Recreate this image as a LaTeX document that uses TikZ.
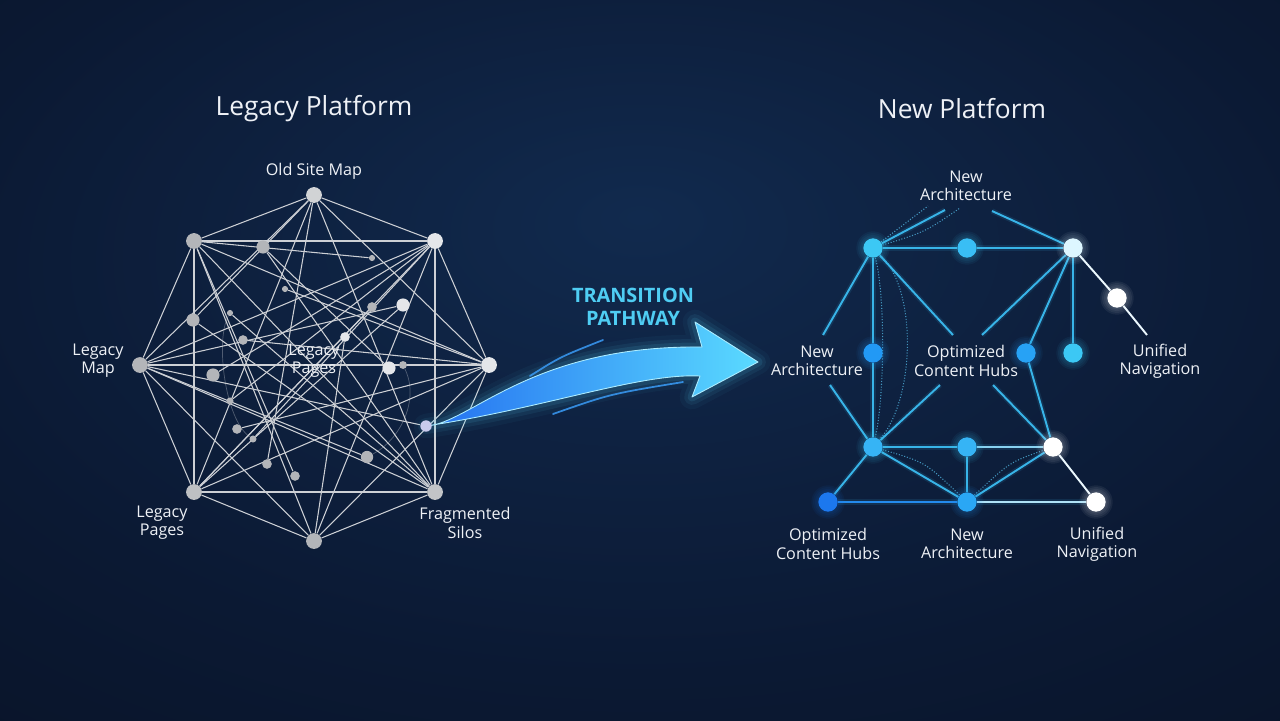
\documentclass[tikz,border=0pt]{standalone}
\usepackage{fontspec}
\setmainfont{Open Sans}
\usepackage{tikz}
\usetikzlibrary{positioning,calc,backgrounds}
\definecolor{bgin}{HTML}{112A4E}
\definecolor{bgmid}{HTML}{0B1933}
\definecolor{bgout}{HTML}{050A15}
\definecolor{legacy}{HTML}{B3B5B9}
\definecolor{legacylite}{HTML}{E4E6EA}
\definecolor{legacyline}{HTML}{CDD0D5}
\definecolor{hubcyan}{HTML}{3CC8F4}
\definecolor{hubblue}{HTML}{2299F5}
\definecolor{deepblue}{HTML}{1C78EE}
\definecolor{paleblue}{HTML}{DDF6FF}
\definecolor{linkcyan}{HTML}{38B4E8}
\definecolor{label}{HTML}{EEF1F6}
\definecolor{pathway}{HTML}{4FCDF3}
\definecolor{arrowblue}{HTML}{2470F0}
\definecolor{arrowcyan}{HTML}{5ADAFF}
\pgfdeclareradialshading{bgglow}{\pgfpoint{0bp}{10bp}}{color(0bp)=(bgin); color(28bp)=(bgmid); color(70bp)=(bgout)}

\begin{document}
\begin{tikzpicture}[x=0.02cm,y=-0.02cm,
  title/.style={font=\fontsize{15}{17}\selectfont,text=label},
  tag/.style={font=\fontsize{9.2}{10.4}\selectfont,text=label,align=center,inner sep=1pt},
  oldnode/.style={circle,fill=legacy,minimum size=9pt,inner sep=0pt},
  oldmid/.style={oldnode,minimum size=7.5pt},
  oldsmall/.style={oldnode,minimum size=5.5pt},
  oldtiny/.style={oldnode,minimum size=3.5pt},
  oldlink/.style={legacyline,line width=0.6pt},
  hub/.style={circle,minimum size=11pt,inner sep=0pt},
  newlink/.style={linkcyan,line width=1.1pt,preaction={draw,linkcyan,line width=3pt,opacity=0.12}},
  whitelink/.style={white!92!cyan,line width=1.1pt},
  faint/.style={linkcyan!85!white,densely dotted,line width=0.6pt,opacity=0.75},
  streak/.style={arrowblue!60!arrowcyan,line width=1pt,line cap=round,opacity=0.85}
]
\useasboundingbox (0,0) rectangle (1280,720);

\node[title] (oldtitle) at (314,109) {Legacy Platform};
\node[title] (newtitle) at (962,109) {New Platform};

\foreach \name/\pos/\col in {o1/{(314,195)}/legacy!60!white, o2/{(435,241)}/legacylite, o3/{(489,365)}/legacylite,
  o4/{(435,492)}/legacy!80!white, o5/{(314,541)}/legacy, o6/{(194,492)}/legacy!85!white, o7/{(140,365)}/legacy, o8/{(194,241)}/legacy}
  \node[oldnode,fill=\col] (\name) at \pos {};

\node[oldmid] (p1) at (263,247) {};
\node[oldtiny] (p2) at (372,258) {};
\node[oldtiny] (p3) at (285,289) {};
\node[oldmid] (p4) at (193,320) {};
\node[oldsmall] (p5) at (372,307) {};
\node[oldmid,fill=legacylite] (p6) at (403,305) {};
\node[oldtiny] (p7) at (230,313) {};
\node[oldsmall] (p8) at (243,340) {};
\node[oldsmall,fill=legacylite] (p9) at (345,337) {};
\node[oldmid] (p10) at (213,375) {};
\node[oldmid,fill=legacylite] (p11) at (389,368) {};
\node[oldtiny,minimum size=4.5pt] (p12) at (403,365) {};
\node[oldtiny,minimum size=4pt] (p13) at (230,401) {};
\node[oldsmall] (p14) at (237,429) {};
\node[oldtiny,minimum size=4pt] (p15) at (253,439) {};
\node[oldsmall] (p16) at (267,464) {};
\node[oldsmall] (p17) at (295,476) {};
\node[oldmid,minimum size=7pt] (p18) at (367,457) {};
\node[oldsmall,minimum size=6.5pt,fill=blue!12!legacylite] (p19) at (426,426) {};

\node[tag,above=3pt of o1] (oldmap) {Old Site Map};
\node[tag] (legmap) at (98,361) {Legacy\\Map};
\node[tag] (legpages) at (314,361) {Legacy\\Pages};
\node[tag] (legpagesB) at (162,523) {Legacy\\Pages};
\node[tag] (silolbl) at (465,523) {Fragmented\\Silos};

\node[font=\fontsize{11.3}{12.8}\selectfont\bfseries,text=pathway,align=center] (pathlbl) at (633,307) {TRANSITION\\PATHWAY};

\node[hub,fill=hubcyan] (topL) at (873,248) {};
\node[hub,fill=hubcyan!95!blue] (topM) at (967,248) {};
\node[hub,fill=paleblue] (topR) at (1073,248) {};
\node[hub,fill=white] (navDot) at (1117,298) {};
\node[hub,fill=hubblue] (midL) at (873,353) {};
\node[hub,fill=hubblue!80!hubcyan] (midC) at (1026,353) {};
\node[hub,fill=hubcyan] (midR) at (1073,353) {};
\node[hub,fill=hubcyan!90!blue] (lowL) at (873,447) {};
\node[hub,fill=hubcyan!90!blue] (lowM) at (967,447) {};
\node[hub,fill=white] (lowR) at (1053,447) {};
\node[hub,fill=deepblue] (baseL) at (828,502) {};
\node[hub,fill=hubblue!70!hubcyan] (baseM) at (967,502) {};
\node[hub,fill=white] (baseR) at (1096,502) {};

\node[tag] (archtop) at (966,186) {New\\Architecture};
\node[tag] (archleft) at (817,361) {New\\Architecture};
\node[tag] (hubsmid) at (966,361) {Optimized\\Content Hubs};
\node[tag] (navright) at (1160,361) {Unified\\Navigation};
\node[tag] (hubsbot) at (828,544) {Optimized\\Content Hubs};
\node[tag] (archbot) at (967,544) {New\\Architecture};
\node[tag] (navbot) at (1097,544) {Unified\\Navigation};

\coordinate (archtopL) at (945,210);
\coordinate (archtopR) at (992,211);
\coordinate (archleftT) at (823,335);
\coordinate (hubsmidL) at (953,335);
\coordinate (hubsmidR) at (982,335);
\coordinate (navrightT) at (1147,335);
\coordinate (archleftB) at (830,385);
\coordinate (hubsmidBL) at (940,385);
\coordinate (hubsmidBR) at (993,385);

\begin{scope}[on background layer]
\shade[shading=bgglow] (0,0) rectangle (1280,720);

\foreach \i in {1,...,7}{
  \pgfmathtruncatemacro\nxt{\i+1}
  \foreach \j in {\nxt,...,8}{
    \ifnum\i\j=15 \else \draw[oldlink] (o\i) -- (o\j); \fi
  }
}
\foreach \a/\b in {o8/p2, o1/p4, o7/p6, o2/p10, o3/p8, o6/p5, o5/p9, o4/p1, o7/p18, o8/p17,
  o1/p16, o2/p13, p1/p11, p4/o4, p6/o6, p12/o7, o7/p19, p3/o3, p7/o4, p14/o3, p15/o2}
  \draw[oldlink] (\a) -- (\b);
\draw[legacyline,line width=0.4pt,opacity=0.35] (p7) .. controls (215,340) and (225,420) .. (p15);
\draw[legacyline,line width=0.4pt,opacity=0.35] (p12) .. controls (420,400) and (400,440) .. (p18);

\foreach \w/\o in {14pt/0.04,9pt/0.07,5pt/0.1}
  \draw[arrowcyan,line width=\w,opacity=\o,line join=round]
    (p19.center) .. controls (470,424) and (530,345) .. (702,347)
    -- (695,322) -- (758,362) -- (692,397) -- (700,376)
    .. controls (640,373) and (545,408) .. (p19.center) -- cycle;
\shade[left color=arrowblue,right color=arrowcyan,draw=arrowcyan!50!white,line width=0.5pt,line join=round]
  (p19.center) .. controls (470,424) and (530,345) .. (702,347)
  -- (695,322) -- (758,362) -- (692,397) -- (700,376)
  .. controls (640,373) and (545,408) .. (p19.center) -- cycle;
\draw[streak] (530,376) .. controls (560,357) .. (603,340);
\draw[streak] (553,414) .. controls (610,394) .. (683,382);

\draw[faint] (topL) -- (928,206);
\draw[faint] (topL) .. controls (925,232) .. (960,208);
\draw[faint] (topL) .. controls (886,300) and (884,400) .. (lowL);
\draw[faint] (topL) .. controls (918,290) and (915,400) .. (lowL);
\draw[faint] (lowL) .. controls (925,462) .. (baseM);
\draw[faint] (baseM) .. controls (1010,462) .. (lowR);

\draw[newlink] (topL) -- (topM);
\draw[newlink] (topM) -- (topR);
\draw[newlink] (topL) -- (archtopL);
\draw[newlink] (archtopR) -- (topR);
\draw[newlink] (topL) -- (archleftT);
\draw[newlink] (topL) -- (midL);
\draw[newlink] (midL) -- (lowL);
\draw[newlink] (topL) -- (hubsmidL);
\draw[newlink] (topR) -- (hubsmidR);
\draw[newlink] (topR) -- (midC);
\draw[newlink] (topR) -- (midR);
\draw[whitelink] (topR) -- (navDot);
\draw[whitelink] (navDot) -- (navrightT);
\draw[newlink] (midC) -- (lowR);
\draw[newlink] (archleftB) -- (lowL);
\draw[newlink] (hubsmidBL) -- (lowL);
\draw[newlink] (hubsmidBR) -- (lowR);
\draw[newlink] (lowL) -- (lowM);
\draw[newlink,color=linkcyan!60!white] (lowM) -- (lowR);
\draw[newlink] (lowL) -- (baseL);
\draw[newlink] (lowL) -- (baseM);
\draw[newlink] (lowM) -- (baseM);
\draw[newlink] (lowR) -- (baseM);
\draw[whitelink] (lowR) -- (baseR);
\draw[newlink,color=deepblue!70!linkcyan] (baseL) -- (baseM);
\draw[newlink,color=linkcyan!40!white] (baseM) -- (baseR);

\foreach \n/\c in {topL/hubcyan, topM/hubcyan, topR/paleblue, navDot/white, midL/hubblue, midC/hubblue,
  midR/hubcyan, lowL/hubcyan, lowM/hubcyan, lowR/white, baseL/deepblue, baseM/hubblue, baseR/white}{
  \foreach \r in {6.5pt,7.5pt,8.5pt,9.5pt}
    \fill[\c,opacity=0.06] (\n) circle (\r);
}
\end{scope}
\end{tikzpicture}
\end{document}
